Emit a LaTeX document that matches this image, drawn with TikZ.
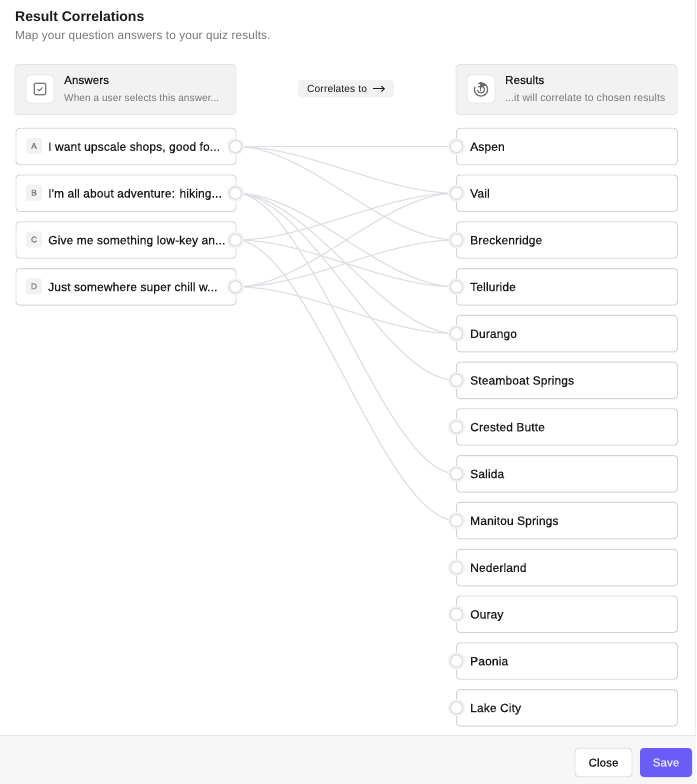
\documentclass[tikz,border=0pt]{standalone}
\usepackage{fontspec}
\setmainfont{Liberation Sans}
\newfontfamily\medfont[FakeBold=0.3,LetterSpace=1.0]{Liberation Sans}
\newfontfamily\subfont[LetterSpace=1.2]{Liberation Sans}
\usetikzlibrary{calc,backgrounds,arrows.meta}
\pgfdeclarelayer{paper}
\pgfsetlayers{paper,background,main}
\definecolor{ink}{HTML}{1B1B1F}
\definecolor{subink}{HTML}{77777C}
\definecolor{cardline}{HTML}{D6D1D3}
\definecolor{portline}{HTML}{DCD8DA}
\definecolor{headfill}{HTML}{F2F2F2}
\definecolor{headline}{HTML}{E4E4E4}
\definecolor{wire}{HTML}{DDDFE5}
\definecolor{halo}{HTML}{F3F1F2}
\definecolor{foot}{HTML}{F7F7F7}
\definecolor{violet}{HTML}{6C5CF7}
\tikzset{
  card/.style={draw=cardline,line width=0.9pt,fill=white,rounded corners=3.5pt,minimum height=36.5pt,inner sep=0pt,anchor=west,minimum width=220pt},
  head/.style={draw=headline,line width=0.8pt,fill=headfill,rounded corners=3.5pt,minimum width=221pt,minimum height=50pt,inner sep=0pt},
  iconbox/.style={draw=headline,line width=0.8pt,fill=white,rounded corners=4pt,minimum size=28pt,inner sep=0pt},
  port/.style={circle,draw=portline,line width=0.9pt,fill=white,minimum size=12pt,inner sep=0pt,
     preaction={draw=halo,line width=5pt}},
  badge/.style={fill=headfill,rounded corners=2.5pt,minimum size=16pt,inner sep=0pt,text=subink,font=\medfont\fontsize{8.5}{10}\selectfont},
  cardtext/.style={anchor=base west,inner sep=0pt,text=ink,font=\medfont\fontsize{12}{14}\selectfont},
  headtitle/.style={anchor=base west,inner sep=0pt,text=ink,font=\medfont\fontsize{11.5}{13}\selectfont},
  headsub/.style={anchor=base west,inner sep=0pt,text=subink,font=\subfont\fontsize{10}{12}\selectfont},
  wireline/.style={draw=wire,line width=1.15pt},
}
\newcommand{\wirelink}[2]{\draw[wireline] (#1.center) .. controls ($(#1.center)+(73.3pt,0)$) and ($(#2.center)-(73.3pt,0)$) .. (#2.center);}
\begin{document}
\begin{tikzpicture}[x=1pt,y=-1pt]
\useasboundingbox (0,0) rectangle (696,784);
\begin{pgfonlayer}{paper}
\fill[white] (0,0) rectangle (696,784);
\end{pgfonlayer}
\draw[draw=headline!70,line width=0.8pt] (695.5,0) -- (695.5,735);
\node[anchor=base west,inner sep=0pt,text=ink,font=\bfseries\fontsize{14}{16}\selectfont] (title) at (15,21.5) {Result Correlations};
\node[anchor=base west,inner sep=0pt,text=subink,font=\subfont\fontsize{11.8}{13}\selectfont] (subtitle) at (15,40) {Map your question answers to your quiz results.};
% headers
\node[head] (hleft) at (125.5,89.5) {};
\node[head] (hright) at (566.5,89.5) {};
\node[iconbox] (ileft) at (40,89) {};
\node[iconbox] (iright) at (481,89) {};
\draw[draw=subink,line width=1.2pt,rounded corners=1.3pt] (34.2,83.2) rectangle (45.8,94.8);
\draw[draw=subink!80!black,line width=0.8pt] (37.6,89.2) -- (39.3,90.8) -- (42.4,87.4);
\begin{scope}[shift={(481,89.5)},y=1pt,draw=subink!90!black]
\draw[line width=1.2pt] (115:6.6pt) arc[start angle=115,end angle=-205,radius=6.6pt];
\draw[line width=1.1pt] (140:3.6pt) arc[start angle=140,end angle=-170,radius=3.6pt];
\fill[subink!90!black] (-1,7.5) -- (5.2,4.4) -- (-1,1.2) -- cycle;
\draw[line width=0.9pt] (-1,7.5) -- (-1,-1);
\end{scope}
\node[headtitle] (htl) at (64,84) {Answers};
\node[headsub] (hsl) at (64,101.5) {When a user selects this answer...};
\node[headtitle] (htr) at (505,84) {Results};
\node[headsub,font=\subfont\fontsize{10.4}{12}\selectfont] (hsr) at (505,101.5) {...it will correlate to chosen results};
% pill
\node[fill=headfill,rounded corners=3.5pt,minimum width=96pt,minimum height=17.5pt,inner sep=0pt] (pill) at (346,88.5) {};
\node[anchor=base west,inner sep=0pt,text=ink,font=\subfont\fontsize{10.2}{11}\selectfont] (pilltext) at (307,92.5) {Correlates to};
\coordinate (arrs) at (372.5,88.8);
\coordinate (arre) at (385,88.8);
\draw[draw=ink,line width=0.9pt,-{Straight Barb[length=3pt,width=5.5pt]}] (arrs) -- (arre);
% left cards
\foreach \nm/\yy/\ll/\tx in {a/146.5/A/{I want upscale shops, good fo...},b/193.2/B/{I'm all about adventure: hiking...},c/240/C/{Give me something low-key an...},d/286.8/D/{Just somewhere super chill w...}}{
  \node[card] (card\nm) at (15.5,\yy) {};
  \node[badge] (badge\nm) at (34,\yy-0.5) {\ll};
  \node[cardtext] (text\nm) at (48,\yy+4.3) {\tx};
  \node[port] (\nm) at (235.5,\yy) {};
}
% right cards
\foreach \nm/\yy/\tx in {r1/146.5/Aspen,r2/193.2/Vail,r3/240/Breckenridge,r4/286.8/Telluride,r5/333.6/Durango,r6/380.3/Steamboat Springs,r7/427/Crested Butte,r8/473.8/Salida,r9/520.6/Manitou Springs,r10/567.6/Nederland,r11/614.2/Ouray,r12/661/Paonia,r13/707.8/Lake City}{
  \node[card,minimum width=221pt] (card\nm) at (456,\yy) {};
  \node[cardtext] (text\nm) at (470,\yy+4.3) {\tx};
  \node[port] (\nm) at (456.5,\yy) {};
}
% connectors
\begin{scope}[on background layer]
\wirelink{a}{r1}\wirelink{a}{r2}\wirelink{a}{r3}
\wirelink{b}{r4}\wirelink{b}{r5}\wirelink{b}{r6}\wirelink{b}{r8}
\wirelink{c}{r2}\wirelink{c}{r4}\wirelink{c}{r9}
\wirelink{d}{r2}\wirelink{d}{r3}\wirelink{d}{r5}
\end{scope}
% footer
\fill[foot] (0,735) rectangle (696,784);
\draw[draw=headline,line width=0.8pt] (0,735) -- (696,735);
\node[draw=cardline!80,line width=0.9pt,fill=white,rounded corners=3.5pt,minimum width=57pt,minimum height=28.5pt,inner sep=0pt,text=ink,font=\medfont\fontsize{11.5}{13}\selectfont] (close) at (603.5,762.5) {Close};
\node[fill=violet,rounded corners=3.5pt,minimum width=52pt,minimum height=29pt,inner sep=0pt,text=white!88!violet,font=\medfont\fontsize{11.5}{13}\selectfont] (save) at (666,762.5) {Save};
\end{tikzpicture}
\end{document}
